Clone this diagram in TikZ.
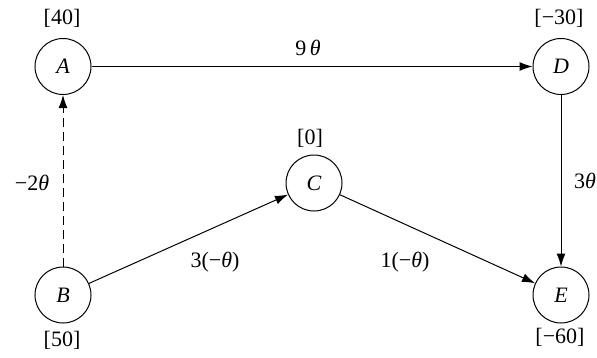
\documentclass[tikz,border=0pt]{standalone}
\usepackage{fontspec}
\setmainfont{Liberation Serif}
\usetikzlibrary{arrows.meta}
\begin{document}
\begin{tikzpicture}[x=1pt,y=1pt,
  vtx/.style={draw,circle,minimum size=56pt,inner sep=0pt,line width=1pt,font=\fontsize{22}{26}\selectfont\itshape},
  lbl/.style={font=\fontsize{22}{26}\selectfont,inner sep=0pt},
  arr/.style={line width=1pt,-{Latex[length=13pt,width=9pt]}},
  dsh/.style={arr,dash pattern=on 9pt off 5pt}]
\useasboundingbox (0,0) rectangle (597,357);
\node[vtx] (A) at (63,290.5) {A};
\node[vtx] (D) at (561,290.5) {D};
\node[vtx] (C) at (314,174) {C};
\node[vtx] (B) at (63,62) {B};
\node[vtx] (E) at (561,62) {E};
\node[lbl] (lA) at (62,339) {[40]};
\node[lbl] (lD) at (559,339) {[−30]};
\node[lbl] (lC) at (310,219) {[0]};
\node[lbl] (lB) at (62,17) {[50]};
\node[lbl] (lE) at (560,20) {[−60]};
\draw[arr] (A) -- (D);
\draw[arr] (D) -- (E);
\draw[dsh] (B) -- (A);
\draw[arr] (B) -- (C);
\draw[arr] (C) -- (E);
\node[lbl] (eAD) at (308,309) {9\,\textit{θ}};
\node[lbl] (eDE) at (585,176) {3\textit{θ}};
\node[lbl] (eBA) at (32,174) {−2\textit{θ}};
\node[lbl] (eBC) at (215,95) {3(−\textit{θ})};
\node[lbl] (eCE) at (405,95) {1(−\textit{θ})};
\end{tikzpicture}
\end{document}
